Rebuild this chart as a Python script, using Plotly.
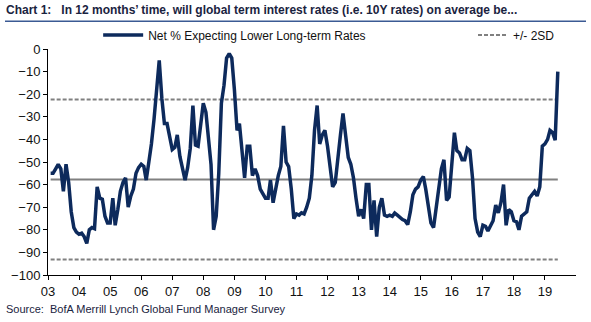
import pandas as pd
import plotly.graph_objects as go

# Monthly survey values, Feb 2003 .. Jun 2019
net_lower = [
    -55, -55, -53, -51, -53, -63, -51, -59, -72, -79, -81,            # 2003 (Feb-Dec)
    -82, -81.5, -83, -86, -80, -79, -79.5, -61, -66, -66.5, -74, -77,  # 2004
    -77, -66, -78, -71, -63, -59, -57, -70, -65, -62, -55, -52.5,      # 2005
    -51, -52, -58, -50, -42, -31, -20, -5, -22, -33, -33, -38,         # 2006
    -44.5, -43.5, -38, -47.5, -52, -58, -52.5, -44, -25, -42.5, -43, -33,  # 2007
    -24, -28, -39.5, -51, -80, -74, -55, -24, -16, -4, -2, -4,         # 2008
    -18, -36, -33, -45, -57, -43, -43, -56, -53, -56, -62, -64,        # 2009
    -66, -66, -58, -68, -62, -56, -52, -34, -50, -52, -62, -75,        # 2010
    -73, -73.5, -72.5, -73, -70, -66, -56, -36, -25, -42, -38, -36,    # 2011
    -43, -54, -61, -59, -47, -38, -28.5, -37, -48, -51, -57, -66,      # 2012
    -74, -71, -75, -60, -60, -80, -67, -83, -70, -66, -73.5, -74,      # 2013
    -73.5, -74, -72.6, -73.5, -74.5, -75.5, -76, -77.7, -72, -64.5, -62, -61,  # 2014
    -58, -56.5, -62, -69, -77, -79, -70, -60, -53, -49, -67, -65.5,    # 2015
    -52, -37, -45, -46, -49, -49, -44, -45, -57, -75, -81, -83,        # 2016
    -78, -78.5, -80.5, -78, -76, -69, -72.5, -68, -60, -78, -71, -72,  # 2017
    -76, -76.5, -80, -74, -73, -72, -66, -64.5, -63, -65, -61, -43,    # 2018
    -42, -40, -36, -37, -40.3, -10,                                    # 2019 (Jan-Jun)
]
dates = pd.date_range("2003-02-01", periods=len(net_lower), freq="MS")

mean_level = [-57.7] * len(net_lower)
upper_2sd = [-22.3] * len(net_lower)
lower_2sd = [-93.1] * len(net_lower)

tick_years = list(range(2003, 2020))
tick_vals = [pd.Timestamp(f"{y}-01-01") for y in tick_years]
tick_text = [f"{y % 100:02d}" for y in tick_years]

NAVY = "#0d2a5c"
GREY = "#808080"
FONT = "Liberation Sans, Arial, sans-serif"
NARROW = "Liberation Sans Narrow, Arial Narrow, Liberation Sans, Arial, sans-serif"

fig = go.Figure()
fig.add_trace(go.Scatter(x=dates, y=mean_level, mode="lines",
                         line=dict(color=GREY, width=2), showlegend=False, hoverinfo="skip"))
fig.add_trace(go.Scatter(x=dates, y=upper_2sd, mode="lines", name="+/- 2SD",
                         legend="legend2", legendgroup="sd",
                         line=dict(color=GREY, width=2, dash="4px,2px")))
fig.add_trace(go.Scatter(x=dates, y=lower_2sd, mode="lines", name="+/- 2SD",
                         legend="legend2", legendgroup="sd", showlegend=False,
                         line=dict(color=GREY, width=2, dash="4px,2px")))
fig.add_trace(go.Scatter(x=dates, y=net_lower, mode="lines",
                         name="Net % Expecting Lower Long-term Rates",
                         line=dict(color=NAVY, width=3.5)))

LEG_Y = 1 + (48.6 - 26) / 227 + 0.026
fig.update_layout(
    width=591, height=322,
    margin=dict(l=48, r=15, t=49, b=47),
    paper_bgcolor="white", plot_bgcolor="white",
    font=dict(family=FONT, size=12, color="#111111"),
    title=dict(text="<b>Chart 1:\u00a0\u00a0 In 12 months\u2019 time, will global term interest rates (i.e. 10Y rates) on average be...</b>",
               x=6 / 591, xanchor="left", xref="container",
               y=1 - 10 / 322, yanchor="middle", yref="container",
               font=dict(family=NARROW, size=12, color="#1a2340")),
    legend=dict(orientation="h", x=0.095, xanchor="left", y=LEG_Y, yanchor="top",
                itemwidth=40, font=dict(size=12, color="#111111"),
                bgcolor="rgba(0,0,0,0)"),
    legend2=dict(orientation="h", x=(473 - 48) / 528, xanchor="left", y=LEG_Y, yanchor="top",
                 itemwidth=30, font=dict(size=12, color="#111111"),
                 bgcolor="rgba(0,0,0,0)"),
    showlegend=True,
)

fig.update_xaxes(range=[pd.Timestamp("2003-01-01"), pd.Timestamp("2020-01-01")],
                 tickvals=tick_vals, ticktext=tick_text,
                 showgrid=False, zeroline=False, showline=True, linecolor="black", linewidth=1,
                 ticks="outside", ticklen=4, tickcolor="black",
                 tickfont=dict(size=13, color="#111111"))
fig.update_yaxes(range=[-100, 0], dtick=10, showgrid=False, zeroline=False,
                 showline=True, linecolor="black", linewidth=1,
                 ticks="outside", ticklen=4, tickcolor="black",
                 tickfont=dict(size=13, color="#111111"))

# title underline
fig.add_shape(type="line", xref="paper", yref="paper",
              x0=-43 / 528, x1=538 / 528, y0=1 + (48.6 - 20.7) / 227, y1=1 + (48.6 - 20.7) / 227,
              line=dict(color="#3b5a94", width=1.5))

fig.add_annotation(text="Source:\u00a0 BofA Merrill Lynch Global Fund Manager Survey",
                   xref="paper", yref="paper", x=-44 / 528, y=(275.5 - 310) / 227,
                   xanchor="left", yanchor="middle", showarrow=False,
                   font=dict(family=NARROW, size=11, color="#1a2340"))

fig.write_html("out.html")
